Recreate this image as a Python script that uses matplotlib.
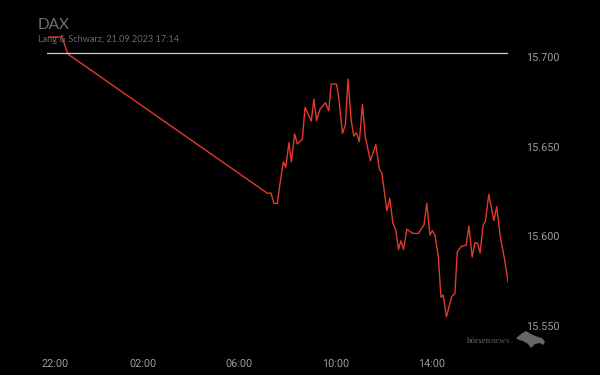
import numpy as np
import matplotlib
matplotlib.use("Agg")
import matplotlib.pyplot as plt
import matplotlib.transforms as mtransforms
from matplotlib.patches import Polygon

# hours after 22:00 (21.09.2023 evening -> next trading day)
hours = [0.08, 0.62, 0.87, 9.18, 9.32, 9.45, 9.59, 9.70, 9.84, 9.94,
         10.07, 10.17, 10.31, 10.42, 10.63, 10.74, 11.00, 11.11, 11.22, 11.36,
         11.59, 11.73, 11.83, 12.05, 12.14, 12.30, 12.42, 12.53, 12.66, 12.77,
         12.88, 13.00, 13.13, 13.25, 13.46, 13.69, 13.83, 13.94, 14.15, 14.27,
         14.40, 14.51, 14.63, 14.73, 14.84, 14.98, 15.23, 15.46, 15.69, 15.81,
         15.94, 16.04, 16.15, 16.29, 16.40, 16.49, 16.63, 16.84, 16.98, 17.08,
         17.25, 17.45, 17.56, 17.70, 17.81, 17.92, 18.03, 18.15, 18.25, 18.39,
         18.60, 18.72, 18.87, 19.05, 19.19]
prices = [15711.0, 15711.0, 15701.5, 15623.9, 15624.2, 15618.3, 15618.3, 15629.5, 15641.5, 15638.4,
          15652.1, 15641.5, 15657.0, 15651.4, 15654.0, 15671.8, 15664.2, 15676.4, 15664.4, 15670.7,
          15674.4, 15669.9, 15684.8, 15684.8, 15677.7, 15657.3, 15662.0, 15687.6, 15664.7, 15655.8,
          15657.7, 15652.7, 15673.5, 15655.4, 15642.1, 15651.0, 15637.8, 15635.1, 15614.2, 15621.1,
          15607.2, 15603.9, 15592.7, 15597.5, 15592.7, 15603.9, 15601.6, 15601.6, 15606.3, 15618.3,
          15600.7, 15603.1, 15600.7, 15588.6, 15566.0, 15567.3, 15555.2, 15566.3, 15568.2, 15591.4,
          15594.4, 15595.1, 15605.7, 15588.4, 15596.4, 15596.2, 15590.7, 15606.0, 15608.4, 15623.4,
          15608.8, 15616.5, 15599.7, 15586.8, 15574.7]
prev_close = 15702.0

x_ticks = [0, 4, 8, 12, 16]
x_labels = ["22:00", "02:00", "06:00", "10:00", "14:00"]
y_ticks = [15550, 15600, 15650, 15700]
y_labels = ["15.550", "15.600", "15.650", "15.700"]

fig = plt.figure(figsize=(6, 3.75), dpi=100, facecolor="black")
ax = fig.add_axes([47/600, 1-330/375, 461/600, 300/375], facecolor="black")

ax.plot(hours, prices, color="#e3392c", lw=1.0, solid_joinstyle="round")
ax.axhline(prev_close, color="#cfcfcf", lw=0.9)

ax.set_xlim(hours[0], hours[-1])
ax.set_ylim(15547.8, 15714.9)

for s in ax.spines.values():
    s.set_visible(False)

ax.set_xticks(x_ticks)
ax.set_xticklabels(x_labels)
ax.set_yticks(y_ticks)
ax.set_yticklabels(y_labels)
ax.yaxis.tick_right()
ax.tick_params(axis="both", length=0, colors="#9c9c9c", labelsize=7.8)
ax.tick_params(axis="y", pad=13)
ax.tick_params(axis="x", pad=21)
for lab in ax.get_xticklabels() + ax.get_yticklabels():
    lab.set_fontfamily("Roboto")
# first label sits a bit to the right in the original
first = ax.get_xticklabels()[0]
first.set_transform(first.get_transform() + mtransforms.ScaledTranslation(8/100, 0, fig.dpi_scale_trans))

fig.text(38/600, 1-25/375, "DAX", color="#707070", fontsize=11, family="Lato", va="center")
fig.text(38/600, 1-40/375, "Lang & Schwarz, 21.09.2023 17:14", color="#6a6a6a", fontsize=6.6,
         family="Lato", va="center")

# börsenNEWS watermark
fig.text(467/600, 1-341/375, "börsen", color="#6a6a6a", fontsize=6.5, family="Liberation Serif", va="center")
fig.text(491/600, 1-341.5/375, "NEWS", color="#6a6a6a", fontsize=5, family="Liberation Serif", va="center")
bull = np.array([[516, 338], [521, 334], [526, 331], [531, 334], [538, 337], [542, 338],
                 [545, 342], [543, 345], [540, 343], [535, 344], [531, 348], [528, 344],
                 [523, 341], [519, 340]])
fig.add_artist(Polygon(np.column_stack([bull[:, 0]/600, 1-bull[:, 1]/375]), closed=True,
                       transform=fig.transFigure, facecolor="#666666", edgecolor="none"))

fig.savefig("out.png", dpi=100, facecolor="black")
